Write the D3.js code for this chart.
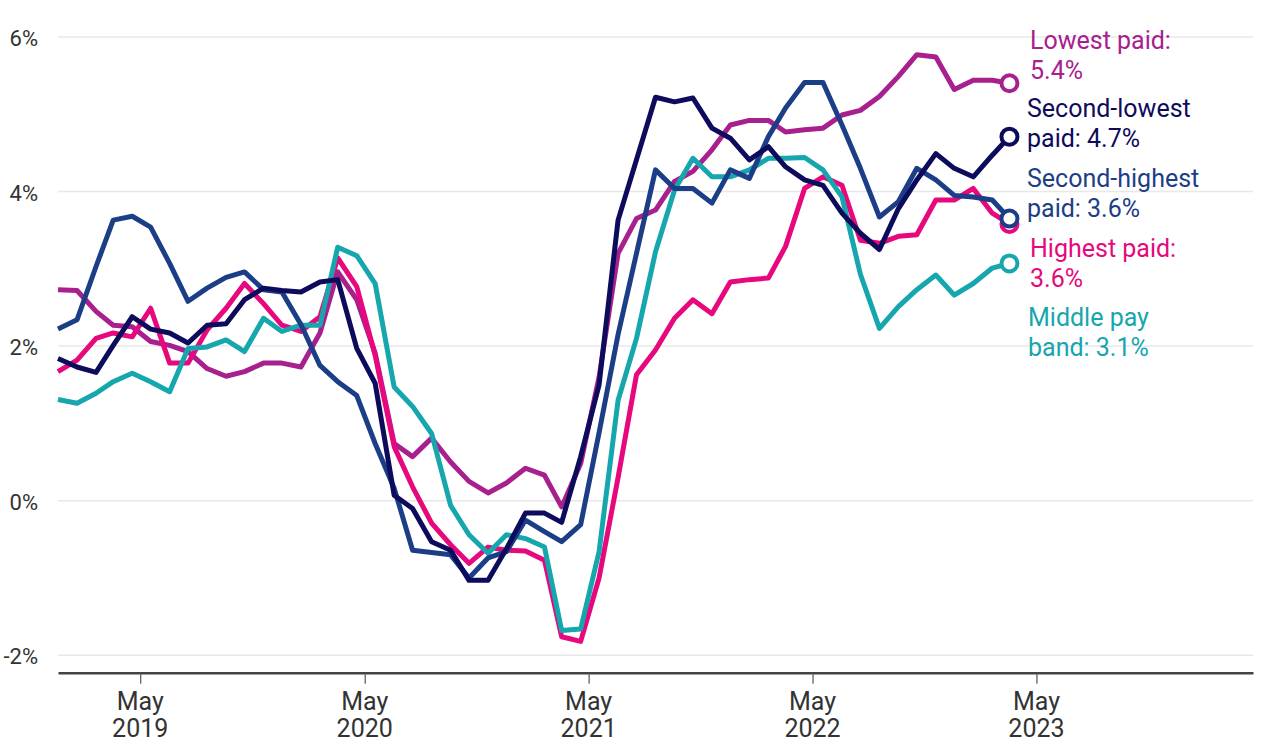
<!DOCTYPE html>
<html>
<head>
<meta charset="utf-8">
<script src="https://cdn.jsdelivr.net/npm/d3@7"></script>
<style>
  body { margin: 0; background: #fff; }
  #chart { width: 1280px; height: 753px; }
  text { font-family: Roboto, "Noto Sans", sans-serif; }
</style>
</head>
<body>
<div id="chart"></div>
<script>
// monthly points, Dec 2018 .. Mar 2023
const startYear = 2018, startMonth = 11;

const lowestPaid = [2.73, 2.72, 2.45, 2.27, 2.25, 2.06, 2.01, 1.93, 1.71, 1.61, 1.67, 1.78, 1.78, 1.73, 2.17, 2.96, 2.60, 1.91, 0.74, 0.57, 0.81, 0.50, 0.25, 0.10, 0.23, 0.42, 0.33, -0.08, 0.48, 1.60, 3.20, 3.65, 3.76, 4.13, 4.26, 4.54, 4.86, 4.92, 4.92, 4.77, 4.80, 4.82, 4.99, 5.05, 5.23, 5.49, 5.77, 5.74, 5.32, 5.44, 5.44, 5.40];
const secondLowest = [1.84, 1.73, 1.66, 2.01, 2.38, 2.22, 2.17, 2.04, 2.27, 2.29, 2.60, 2.75, 2.72, 2.70, 2.83, 2.86, 1.97, 1.52, 0.07, -0.10, -0.53, -0.64, -1.03, -1.03, -0.62, -0.16, -0.16, -0.28, 0.57, 1.50, 3.63, 4.41, 5.22, 5.16, 5.21, 4.82, 4.69, 4.41, 4.58, 4.32, 4.15, 4.08, 3.72, 3.46, 3.25, 3.78, 4.15, 4.49, 4.30, 4.19, 4.47, 4.71];
const secondHighest = [2.22, 2.34, 3.03, 3.63, 3.68, 3.54, 3.07, 2.58, 2.75, 2.89, 2.96, 2.73, 2.70, 2.28, 1.75, 1.54, 1.36, 0.74, 0.16, -0.64, -0.67, -0.70, -1.00, -0.74, -0.66, -0.25, -0.40, -0.53, -0.31, 0.88, 2.15, 3.20, 4.28, 4.04, 4.04, 3.85, 4.28, 4.17, 4.71, 5.08, 5.41, 5.41, 4.86, 4.30, 3.67, 3.87, 4.30, 4.15, 3.95, 3.93, 3.89, 3.65];
const highestPaid = [1.67, 1.82, 2.10, 2.17, 2.12, 2.49, 1.78, 1.78, 2.21, 2.49, 2.81, 2.55, 2.27, 2.19, 2.38, 3.14, 2.77, 1.88, 0.70, 0.18, -0.29, -0.57, -0.81, -0.60, -0.64, -0.65, -0.77, -1.76, -1.82, -1.00, 0.30, 1.63, 1.95, 2.36, 2.60, 2.42, 2.83, 2.86, 2.88, 3.29, 4.04, 4.19, 4.08, 3.37, 3.33, 3.42, 3.44, 3.89, 3.89, 4.04, 3.72, 3.58];
const middleBand = [1.31, 1.26, 1.39, 1.54, 1.65, 1.54, 1.41, 1.97, 1.99, 2.08, 1.93, 2.36, 2.19, 2.27, 2.27, 3.28, 3.17, 2.81, 1.47, 1.22, 0.87, -0.06, -0.44, -0.68, -0.44, -0.49, -0.60, -1.68, -1.66, -0.66, 1.30, 2.10, 3.22, 4.02, 4.43, 4.19, 4.19, 4.28, 4.43, 4.43, 4.44, 4.28, 3.93, 2.93, 2.23, 2.51, 2.73, 2.92, 2.66, 2.81, 3.01, 3.07];

const yTicks = [-2, 0, 2, 4, 6];
const xTickYears = [2019, 2020, 2021, 2022, 2023];

// draw order: bottom first
const series = [
  { name: "lowest", values: lowestPaid, color: "#a8208e", label: ["Lowest paid:", "5.4%"] },
  { name: "highest", values: highestPaid, color: "#e6087c", label: ["Highest paid:", "3.6%"] },
  { name: "middle", values: middleBand, color: "#16a6ad", label: ["Middle pay", "band: 3.1%"] },
  { name: "secondHighest", values: secondHighest, color: "#1b3e87", label: ["Second-highest", "paid: 3.6%"] },
  { name: "secondLowest", values: secondLowest, color: "#0d0b5b", label: ["Second-lowest", "paid: 4.7%"] }
];

// label placement (baseline of first line)
const labelPos = {
  lowest: { x: 1030, y: 49 },
  secondLowest: { x: 1027, y: 117 },
  secondHighest: { x: 1027, y: 187 },
  highest: { x: 1030, y: 257 },
  middle: { x: 1028, y: 326 }
};

const monthDate = i => new Date(startYear, startMonth + i, 18);

const svg = d3.select("#chart")
  .append("svg")
  .attr("width", 1280)
  .attr("height", 753);

const xScale = d3.scaleTime()
  .domain([new Date(2018, 11, 18), new Date(2024, 3, 18)])
  .range([58, 1253]);

const yScale = d3.scaleLinear()
  .domain([-2.225, 6.25])
  .range([672.7, 17.6]);

// gridlines
svg.append("g")
  .selectAll("line")
  .data(yTicks)
  .join("line")
  .attr("x1", 58)
  .attr("x2", 1253)
  .attr("y1", d => yScale(d))
  .attr("y2", d => yScale(d))
  .attr("stroke", "#e8e8e8")
  .attr("stroke-width", 1.5);

// y labels
svg.append("g")
  .selectAll("text")
  .data(yTicks)
  .join("text")
  .attr("x", 38)
  .attr("y", d => yScale(d) + 9)
  .attr("text-anchor", "end")
  .attr("fill", "#333")
  .attr("font-size", 22)
  .text(d => d + "%");

// x axis
const xAxis = svg.append("g")
  .attr("transform", `translate(0,${yScale(-2.225)})`)
  .call(d3.axisBottom(xScale)
    .tickValues(xTickYears.map(y => new Date(y, 4, 1)))
    .tickSize(11)
    .tickSizeOuter(0)
    .tickFormat(""));
xAxis.select(".domain").attr("stroke", "#444").attr("stroke-width", 2.5);
xAxis.selectAll(".tick line").attr("stroke", "#555").attr("stroke-width", 1.2);

const xLabels = svg.append("g")
  .selectAll("text")
  .data(xTickYears)
  .join("text")
  .attr("x", d => xScale(new Date(d, 4, 1)))
  .attr("text-anchor", "middle")
  .attr("fill", "#333")
  .attr("font-size", 25);
xLabels.append("tspan").attr("x", d => xScale(new Date(d, 4, 1))).attr("y", 710).text("May");
xLabels.append("tspan").attr("x", d => xScale(new Date(d, 4, 1))).attr("y", 737).text(d => d);

// lines
const line = d3.line()
  .x((d, i) => xScale(monthDate(i)))
  .y(d => yScale(d));

series.forEach(s => {
  svg.append("path")
    .datum(s.values)
    .attr("fill", "none")
    .attr("stroke", s.color)
    .attr("stroke-width", 5)
    .attr("stroke-linejoin", "round")
    .attr("d", line);
});

// end circles
series.forEach(s => {
  const last = s.values.length - 1;
  svg.append("circle")
    .attr("cx", xScale(monthDate(last)))
    .attr("cy", yScale(s.values[last]))
    .attr("r", 8)
    .attr("fill", "#fff")
    .attr("stroke", s.color)
    .attr("stroke-width", 4);
});

// direct labels
series.forEach(s => {
  const p = labelPos[s.name];
  const t = svg.append("text")
    .attr("fill", s.color)
    .attr("font-size", 25);
  s.label.forEach((txt, i) => {
    t.append("tspan").attr("x", p.x).attr("y", p.y + i * 29.5).text(txt);
  });
});
</script>
</body>
</html>
